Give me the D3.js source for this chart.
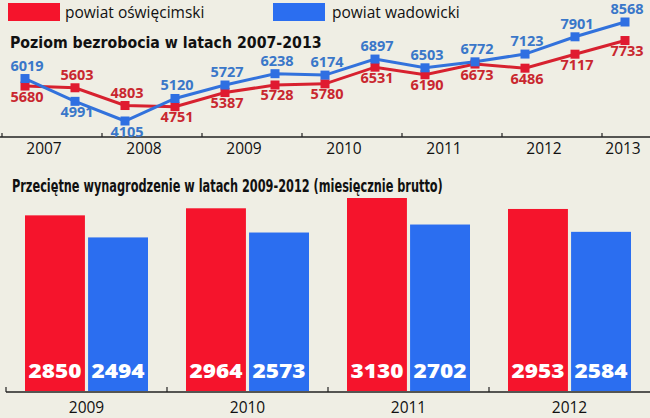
<!DOCTYPE html>
<html><head><meta charset="utf-8">
<script src="https://cdn.jsdelivr.net/npm/d3@7"></script>
<style>body{margin:0;background:#efeee4}svg{display:block}</style>
</head><body><svg id="c" width="650" height="418"></svg>
<script>
const seriesNames = ["powiat oświęcimski", "powiat wadowicki"];
const lineYears = ["2007","2008","2009","2010","2011","2012","2013"];
const unempOsw = [5680,5603,4803,4751,5387,5728,5780,6531,6190,6673,6486,7117,7733];
const unempWad = [6019,4991,4105,5120,5727,6238,6174,6897,6503,6772,7123,7901,8568];
const barYears = ["2009","2010","2011","2012"];
const wageOsw = [2850,2964,3130,2953];
const wageWad = [2494,2573,2702,2584];
const title1 = "Poziom bezrobocia w latach 2007-2013";
const title2 = "Przeciętne wynagrodzenie w latach 2009-2012 (miesięcznie brutto)";

const RED = "#f5142c", BLUE = "#2b6ef0";
const LRED = "#d7212f", LBLUE = "#3272dc";
const TRED = "#c9272f", TBLUE = "#3a77c9";
const svg = d3.select("#c");
svg.append("rect").attr("width",650).attr("height",418).attr("fill","#efeee4");

function fitText(txt, x0, y0, width, size){
  const t = svg.append("text").text(txt)
    .attr("font-family","DejaVu Sans Condensed, DejaVu Sans").attr("font-weight","bold")
    .attr("font-size",size).attr("fill","#111");
  const w = t.node().getComputedTextLength();
  t.attr("transform",`translate(${x0},${y0}) scale(${width/w},1)`);
}

// legend
const lg = [[8,65],[273,332]];
seriesNames.forEach((n,i)=>{
  svg.append("rect").attr("x",lg[i][0]).attr("y",3).attr("width",52).attr("height",18).attr("fill",i?BLUE:RED);
  svg.append("text").attr("x",lg[i][1]).attr("y",18).text(n)
    .attr("font-family","Open Sans").attr("font-size",15.5).attr("fill","#111");
});

// titles
fitText(title1, 10, 48, 312, 15.5);
fitText(title2, 12, 192, 431, 18.5);

// line chart
const x = d3.scaleLinear().domain([0,12]).range([25,625]);
const y = d3.scaleLinear().domain([4105,8568]).range([121,22]);
const axisY = 137;
svg.append("line").attr("x1",0).attr("x2",650).attr("y1",axisY).attr("y2",axisY).attr("stroke","#222").attr("stroke-width",1.5);
d3.range(0,7).forEach(k=>{
  const tx = x(2*k-0.46);
  svg.append("line").attr("x1",tx).attr("x2",tx).attr("y1",axisY-4).attr("y2",axisY).attr("stroke","#222").attr("stroke-width",1.2);
});
lineYears.forEach((yr,k)=>{
  const ix = k<6 ? 2*k+0.38 : 11.96;
  svg.append("text").attr("x",x(ix)).attr("y",154).attr("text-anchor","middle").text(yr)
    .attr("font-family","Open Sans").attr("font-size",15.5).attr("fill","#111");
});
const line = d3.line().x((d,i)=>x(i)).y(d=>y(d));
const defs = [[unempOsw,LRED,"#e01a30",TRED,unempWad],[unempWad,LBLUE,"#2f6fe2",TBLUE,unempOsw]];
defs.forEach(([data,lc])=>{
  svg.append("path").datum(data).attr("d",line).attr("fill","none").attr("stroke",lc).attr("stroke-width",3);
});
defs.forEach(([data,lc,mc,tc,other])=>{
  svg.selectAll(null).data(data).enter().append("rect")
    .attr("x",(d,i)=>x(i)-4.5).attr("y",d=>y(d)-4.5).attr("width",9).attr("height",9).attr("fill",mc);
  svg.selectAll(null).data(data).enter().append("text")
    .attr("x",(d,i)=>x(i)+2)
    .attr("y",(d,i)=> d>=other[i] ? y(d)-8 : y(d)+15.5)
    .attr("text-anchor","middle").text(d=>d)
    .attr("font-family","Open Sans").attr("font-weight","bold").attr("font-size",14.5).attr("fill",tc);
});

// bar chart
const bx = d3.scaleBand().domain(barYears).range([6,650]);
const by = d3.scaleLinear().domain([0,3130]).range([392,198]);
const inner = d3.scaleBand().domain([0,1]).range([19,142]).paddingInner(0.05);
barYears.forEach((yr,k)=>{
  [wageOsw[k],wageWad[k]].forEach((v,j)=>{
    const bxp = bx(yr)+inner(j);
    svg.append("rect").attr("x",bxp).attr("y",by(v)).attr("width",inner.bandwidth()).attr("height",by(0)-by(v)-1)
      .attr("fill",j?BLUE:RED);
    svg.append("text").attr("x",bxp+inner.bandwidth()/2).attr("y",378).attr("text-anchor","middle").text(v)
      .attr("font-family","Open Sans").attr("font-weight",800).attr("font-size",20)
      .attr("textLength",53).attr("lengthAdjust","spacingAndGlyphs").attr("fill","#fff");
  });
  svg.append("text").attr("x",bx(yr)+bx.bandwidth()/2).attr("y",413).attr("text-anchor","middle").text(yr)
    .attr("font-family","Open Sans").attr("font-size",15.5).attr("fill","#111");
});
svg.append("line").attr("x1",6).attr("x2",650).attr("y1",392).attr("y2",392).attr("stroke","#222").attr("stroke-width",1.5);
barYears.forEach(yr=>{
  svg.append("line").attr("x1",bx(yr)).attr("x2",bx(yr)).attr("y1",387).attr("y2",392).attr("stroke","#222").attr("stroke-width",1.2);
});
</script></body></html>
